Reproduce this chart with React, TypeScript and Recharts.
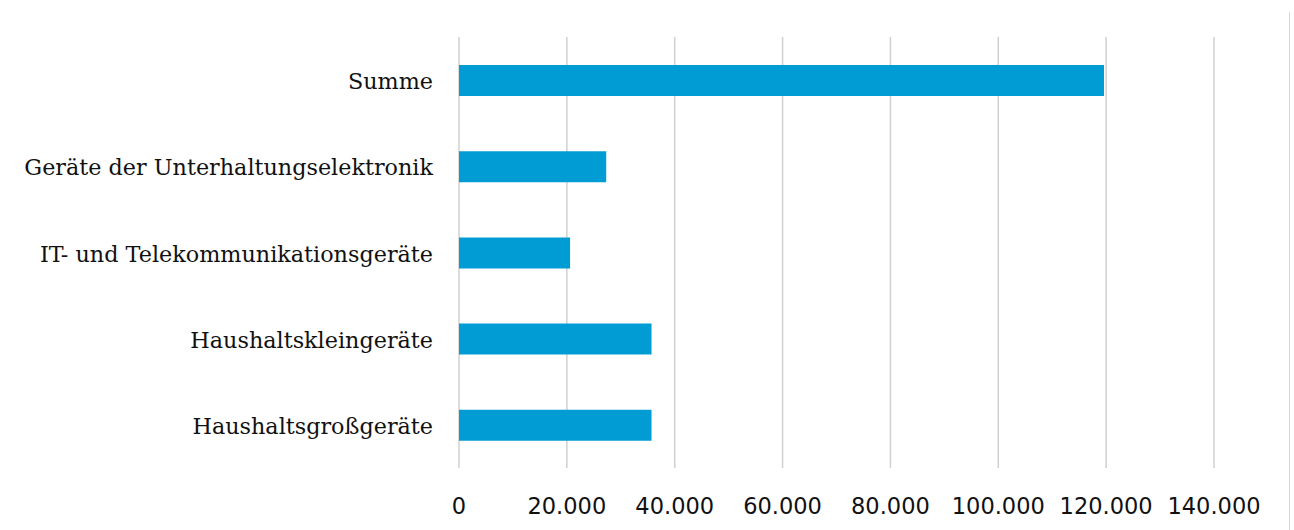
import React from "react";
import { BarChart, Bar, XAxis, YAxis, CartesianGrid } from "recharts";

const categories = [
  "Summe",
  "Geräte der Unterhaltungselektronik",
  "IT- und Telekommunikationsgeräte",
  "Haushaltskleingeräte",
  "Haushaltsgroßgeräte",
];
const values = [119600, 27300, 20600, 35700, 35700];
const xTicks = [0, 20000, 40000, 60000, 80000, 100000, 120000, 140000];

const data = categories.map((name, i) => ({ name, value: values[i] }));

const fmt = (v: number) => String(v).replace(/\B(?=(\d{3})+(?!\d))/g, ".");

const SERIF = "'DejaVu Serif', serif";
const SANS = "'DejaVu Sans', sans-serif";

const YTick = (props: any) => {
  const { x, y, payload } = props;
  return (
    <text x={x} y={y + 9} textAnchor="end" fill="#111" fontSize={22.3} fontFamily={SERIF}>
      {payload.value}
    </text>
  );
};

const XTick = (props: any) => {
  const { x, y, payload } = props;
  return (
    <text x={x} y={y + 46} textAnchor="middle" fill="#111" fontSize={22.5} fontFamily={SANS}>
      {fmt(payload.value)}
    </text>
  );
};

export default function App() {
  return (
    <div
      style={{
        position: "absolute",
        left: 0,
        top: 0,
        width: 1294,
        height: 530,
        background: "#fff",
      }}
    >
      <BarChart
        width={1294}
        height={530}
        data={data}
        layout="vertical"
        margin={{ top: 37, right: 80, bottom: 0, left: 0 }}
        barCategoryGap={0}
      >
        <CartesianGrid horizontal={false} stroke="#d0d0d0" strokeWidth={1.5} />
        <XAxis
          type="number"
          domain={[0, 140000]}
          ticks={xTicks}
          axisLine={false}
          tickLine={false}
          tickSize={0}
          tickMargin={0}
          height={62}
          interval={0}
          tick={<XTick />}
        />
        <YAxis
          type="category"
          dataKey="name"
          width={459}
          axisLine={false}
          tickLine={false}
          tickSize={0}
          tickMargin={26}
          interval={0}
          tick={<YTick />}
        />
        <Bar dataKey="value" fill="#009CD3" barSize={31} isAnimationActive={false} />
      </BarChart>
      <div
        style={{
          position: "absolute",
          left: 1289,
          top: 12,
          width: 1,
          height: 518,
          background: "#d6d6d6",
        }}
      />
    </div>
  );
}
